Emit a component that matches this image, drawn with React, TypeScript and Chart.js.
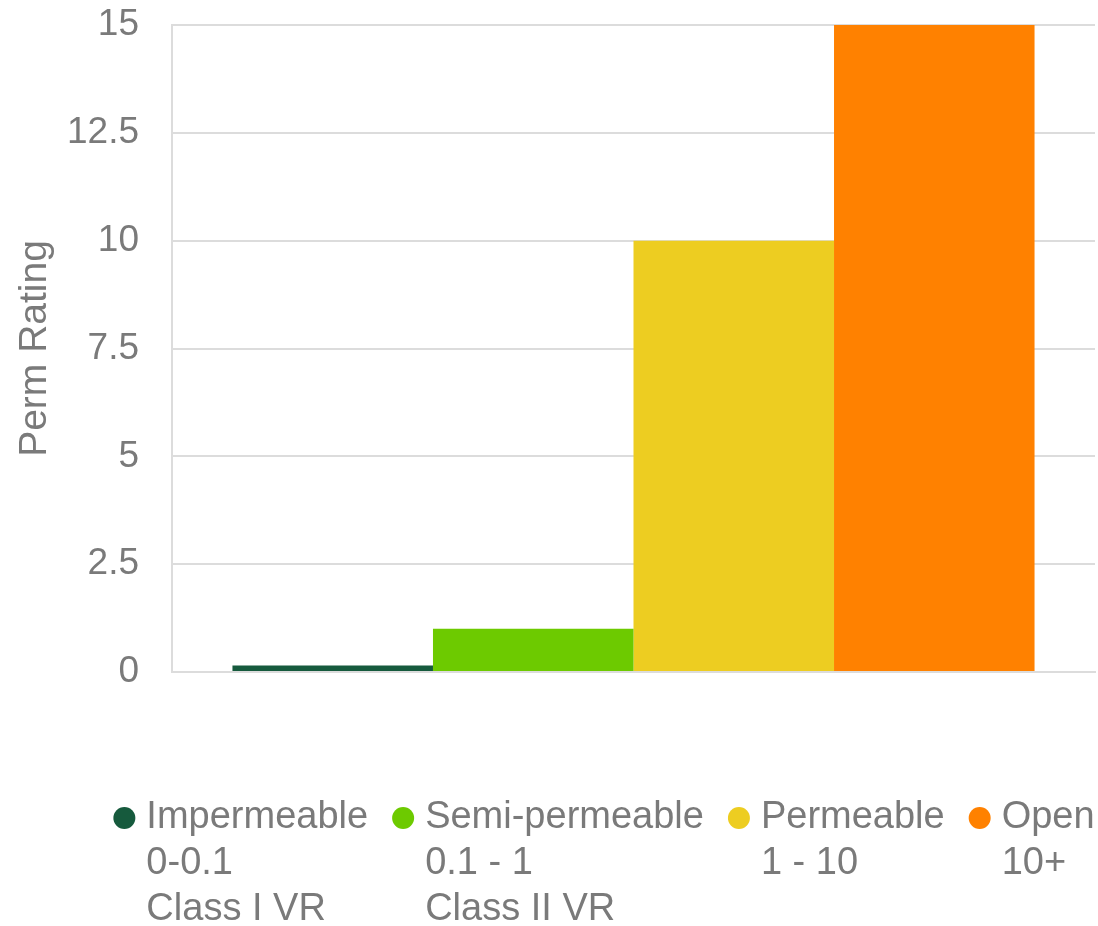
import React, { useEffect, useRef } from "react";
import { Chart, registerables } from "chart.js";

Chart.register(...registerables);

const categories = [""];
const seriesNames = ["Impermeable", "Semi-permeable", "Permeable", "Open"];
const seriesRanges = ["0-0.1", "0.1 - 1", "1 - 10", "10+"];
const seriesClasses = ["Class I VR", "Class II VR", "", ""];
const seriesValues = [0.15, 1, 10, 15];
const seriesColors = ["#165a3d", "#6dca00", "#edcd21", "#ff8100"];
const yTicks = [0, 2.5, 5, 7.5, 10, 12.5, 15];

const FONT = "'Liberation Sans', Arial, sans-serif";
const TEXT = "#7a7a7a";

const legendPlugin = {
  id: "multiLineLegend",
  afterDraw(chart: any) {
    const ctx = chart.ctx as CanvasRenderingContext2D;
    const items = chart.data.datasets.map((d: any) => d.legendLines as string[]);
    ctx.save();
    ctx.font = `38px ${FONT}`;
    const r = 11;
    const gapCircle = 11;
    const gapItem = 24;
    const widths = items.map((lines: string[]) =>
      Math.max(...lines.map((l) => ctx.measureText(l).width))
    );
    const total =
      widths.reduce((a: number, w: number) => a + w + 2 * r + gapCircle, 0) +
      gapItem * (items.length - 1);
    let x = 604 - total / 2;
    const y0 = 818;
    const lh = 46;
    ctx.textBaseline = "middle";
    ctx.textAlign = "left";
    items.forEach((lines: string[], i: number) => {
      ctx.fillStyle = chart.data.datasets[i].backgroundColor;
      ctx.beginPath();
      ctx.arc(x + r, y0, r, 0, Math.PI * 2);
      ctx.fill();
      ctx.fillStyle = TEXT;
      const tx = x + 2 * r + gapCircle;
      lines.forEach((l, j) => {
        if (l) ctx.fillText(l, tx, y0 + j * lh);
      });
      x = tx + widths[i] + gapItem;
    });
    ctx.restore();
  },
};

export default function App() {
  const ref = useRef<HTMLCanvasElement | null>(null);
  useEffect(() => {
    document.body.style.margin = "0";
    const chart = new Chart(ref.current as HTMLCanvasElement, {
      type: "bar",
      data: {
        labels: categories,
        datasets: seriesNames.map((name, i) => ({
          label: name,
          data: [seriesValues[i]],
          backgroundColor: seriesColors[i],
          borderWidth: 0,
          legendLines: [seriesNames[i], seriesRanges[i], seriesClasses[i]],
        })) as any,
      },
      options: {
        animation: false,
        responsive: false,
        maintainAspectRatio: false,
        layout: { padding: { top: 25, right: 3, bottom: 254, left: 12 } },
        datasets: {
          bar: { categoryPercentage: 0.869, barPercentage: 1 },
        },
        plugins: {
          legend: { display: false },
          tooltip: { enabled: false },
        },
        scales: {
          x: {
            grid: { display: false },
            ticks: { display: false },
            border: { display: true, color: "#dcdcdc", width: 2 },
            afterFit: (scale: any) => {
              scale.height = 0;
              scale.paddingLeft = 0;
              scale.paddingRight = 0;
            },
          },
          y: {
            min: 0,
            max: 15,
            afterBuildTicks: (scale: any) => {
              scale.ticks = yTicks.map((v) => ({ value: v }));
            },
            afterFit: (scale: any) => {
              scale.width = 160;
              scale.paddingTop = 0;
              scale.paddingBottom = 0;
            },
            grid: { color: "#dcdcdc", lineWidth: 2, drawTicks: false },
            border: { display: true, color: "#dcdcdc", width: 2 },
            ticks: {
              padding: 33,
              color: TEXT,
              font: { family: FONT, size: 37 },
              callback: (v: any) => String(v),
            },
            title: {
              display: true,
              text: "Perm Rating",
              color: TEXT,
              font: { family: FONT, size: 39 },
              padding: { top: 0, bottom: 4 },
            },
          },
        },
      },
      plugins: [legendPlugin],
    });
    return () => chart.destroy();
  }, []);
  return (
    <div style={{ width: 1098, height: 926 }}>
      <canvas ref={ref} width={1098} height={926} style={{ display: "block" }} />
    </div>
  );
}
